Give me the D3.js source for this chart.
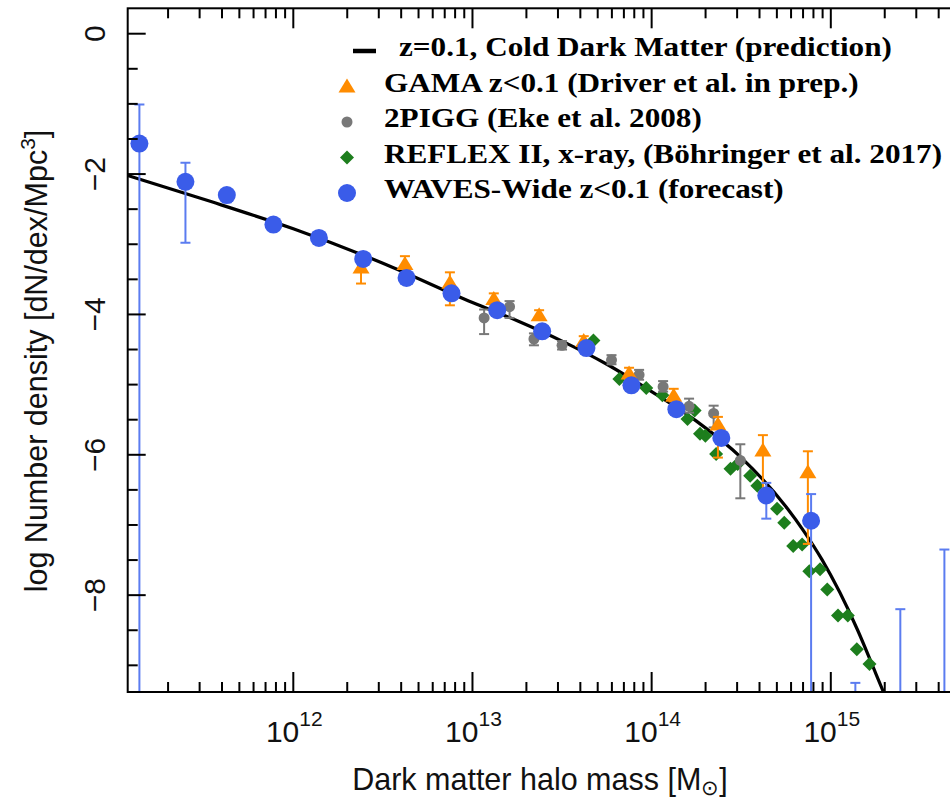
<!DOCTYPE html>
<html><head><meta charset="utf-8">
<script src="https://cdn.jsdelivr.net/npm/d3@7"></script>
<style>body{margin:0;background:#fff}</style>
</head><body>
<svg id="chart" width="950" height="800"></svg>
<script>
// ---------- data (log10 halo mass, log number density) ----------
const curveLogM = [11.076, 11.5, 12.0, 12.5, 13.0, 13.25, 13.5, 13.75, 14.0, 14.25, 14.5, 14.75, 14.85, 14.95, 15.05, 15.15, 15.25, 15.30, 15.33];
const curveLogN = [-2.02, -2.36, -2.78, -3.27, -3.83, -4.09, -4.38, -4.71, -5.10, -5.52, -6.04, -6.74, -7.09, -7.49, -7.96, -8.50, -9.11, -9.42, -9.62];

const wavesLogM = [11.141, 11.398, 11.629, 11.889, 12.143, 12.39, 12.632, 12.883, 13.138, 13.389, 13.636, 13.887, 14.138, 14.389, 14.64, 14.89, 15.137, 15.388, 15.634];
const wavesLogN = [-1.565, -2.11, -2.30, -2.72, -2.91, -3.21, -3.48, -3.70, -3.94, -4.24, -4.48, -5.01, -5.35, -5.76, -6.58, -6.94, -10.0, -10.0, -10.0];
const wavesLo   = [-10.5, -2.98, -2.40, -2.72, -2.91, -3.21, -3.48, -3.70, -3.94, -4.24, -4.48, -5.01, -5.35, -5.76, -6.91, -10.5, -10.5, -10.5, -10.5];
const wavesHi   = [-1.01, -1.84, -2.30, -2.72, -2.91, -3.21, -3.48, -3.70, -3.94, -4.24, -4.48, -5.01, -5.35, -5.76, -6.40, -6.56, -9.25, -8.20, -7.35];

const gamaLogM = [12.378, 12.623, 12.874, 13.119, 13.372, 13.621, 13.874, 14.123, 14.37, 14.621, 14.872];
const gamaLogN = [-3.33, -3.28, -3.55, -3.78, -4.01, -4.38, -4.84, -5.16, -5.57, -5.94, -6.25];
const gamaLo   = [-3.56, -3.50, -3.87, -3.86, -4.08, -4.45, -4.92, -5.24, -6.04, -6.55, -7.27];
const gamaHi   = [-3.20, -3.17, -3.40, -3.70, -3.94, -4.31, -4.76, -5.06, -5.46, -5.72, -5.95];

const piggLogM = [13.065, 13.207, 13.343, 13.50, 13.776, 13.93, 14.064, 14.209, 14.346, 14.495];
const piggLogN = [-4.05, -3.89, -4.35, -4.44, -4.65, -4.86, -5.03, -5.31, -5.41, -6.08];
const piggLo   = [-4.28, -4.05, -4.44, -4.50, -4.71, -4.93, -5.10, -5.40, -5.61, -6.62];
const piggHi   = [-3.93, -3.81, -4.27, -4.38, -4.58, -4.79, -4.95, -5.20, -5.30, -5.85];

const reflexLogM = [13.675, 13.82, 13.97, 14.06, 14.20, 14.24, 14.27, 14.30, 14.36, 14.44, 14.48, 14.55, 14.59, 14.70, 14.74, 14.79, 14.84, 14.88, 14.94, 14.98, 15.04, 15.095, 15.145, 15.216];
const reflexLogN = [-4.37, -4.92, -5.05, -5.15, -5.49, -5.37, -5.70, -5.73, -5.99, -6.20, -6.13, -6.30, -6.44, -6.77, -6.97, -7.30, -7.28, -7.66, -7.63, -7.92, -8.29, -8.29, -8.77, -8.98];

const yMajorTicks = [0, -2, -4, -6, -8];
const yTickLabels = ["0", "\u22122", "\u22124", "\u22126", "\u22128"];
const xMajorExp = [12, 13, 14, 15];
const legendLabels = [
  "z=0.1, Cold Dark Matter (prediction)",
  "GAMA z<0.1 (Driver et al. in prep.)",
  "2PIGG (Eke et al. 2008)",
  "REFLEX II, x-ray, (B\u00f6hringer et al. 2017)",
  "WAVES-Wide z<0.1 (forecast)"
];

// ---------- layout ----------
const L = 127.7, R = 953, T = 8.3, B = 692;
const x = d3.scaleLog().domain([Math.pow(10, 11.0757), Math.pow(10, 15.682)]).range([L, R]);
const y = d3.scaleLinear().domain([-9.38, 0.362]).range([B, T]);
const X = lm => x(Math.pow(10, lm));

const C = {blue: "#3a5ce9", blueBar: "#5b7cf0", orange: "#ff8c00", grey: "#787878", green: "#1d7e1d"};
const SANS = "'Liberation Sans', Arimo, Helvetica, Arial, sans-serif";
const SERIF = "'Liberation Serif', 'Times New Roman', Times, serif";

const svg = d3.select("#chart");
svg.append("defs").append("clipPath").attr("id", "clip")
  .append("rect").attr("x", L).attr("y", T).attr("width", R - L).attr("height", B - T);

const plot = svg.append("g").attr("clip-path", "url(#clip)");

// curve
const line = d3.line().x(d => X(d)).y((d, i) => y(curveLogN[i])).curve(d3.curveMonotoneX);
plot.append("path").attr("d", line(curveLogM)).attr("fill", "none")
  .attr("stroke", "#000").attr("stroke-width", 3.2);

function errBars(g, ms, lo, hi, color, w) {
  ms.forEach((m, i) => {
    if (Math.abs(hi[i] - lo[i]) < 1e-6) return;
    const cx = X(m);
    g.append("line").attr("x1", cx).attr("x2", cx).attr("y1", y(lo[i])).attr("y2", y(hi[i]))
      .attr("stroke", color).attr("stroke-width", w);
    [lo[i], hi[i]].forEach(v => {
      g.append("line").attr("x1", cx - 5).attr("x2", cx + 5).attr("y1", y(v)).attr("y2", y(v))
        .attr("stroke", color).attr("stroke-width", w);
    });
  });
}
const diamond = s => `M0,${-s}L${s},0L0,${s}L${-s},0Z`;
const tri = "M0,-8L8.5,6L-8.5,6Z";

// REFLEX diamonds
plot.append("g").selectAll("path").data(reflexLogM).join("path")
  .attr("d", diamond(7)).attr("fill", C.green)
  .attr("transform", (d, i) => `translate(${X(d)},${y(reflexLogN[i])})`);

// 2PIGG
const gp = plot.append("g");
errBars(gp, piggLogM, piggLo, piggHi, C.grey, 2);
gp.selectAll("circle").data(piggLogM).join("circle")
  .attr("cx", d => X(d)).attr("cy", (d, i) => y(piggLogN[i])).attr("r", 5.5).attr("fill", C.grey);

// GAMA
const go = plot.append("g");
errBars(go, gamaLogM, gamaLo, gamaHi, C.orange, 2);
go.selectAll("path").data(gamaLogM).join("path").attr("d", tri).attr("fill", C.orange)
  .attr("transform", (d, i) => `translate(${X(d)},${y(gamaLogN[i])})`);

// WAVES
const gb = plot.append("g");
errBars(gb, wavesLogM, wavesLo, wavesHi, C.blueBar, 2);
gb.selectAll("circle").data(wavesLogM).join("circle")
  .attr("cx", d => X(d)).attr("cy", (d, i) => y(wavesLogN[i])).attr("r", 9).attr("fill", C.blue);

// ---------- axes / frame ----------
const ax = svg.append("g").attr("stroke", "#000").attr("stroke-width", 2);
ax.append("rect").attr("x", L).attr("y", T).attr("width", R - L).attr("height", B - T).attr("fill", "none");

// x ticks (bottom & top, inward)
const xt = [];
for (let e = 11; e <= 15; e++) for (let m = 1; m <= 9; m++) {
  const v = m * Math.pow(10, e);
  if (v >= x.domain()[0] && v <= x.domain()[1]) xt.push({v, major: m === 1});
}
xt.forEach(t => {
  const px = x(t.v), len = t.major ? 20 : 10;
  ax.append("line").attr("x1", px).attr("x2", px).attr("y1", B).attr("y2", B - len);
  ax.append("line").attr("x1", px).attr("x2", px).attr("y1", T).attr("y2", T + len);
});
// y ticks (left, inward)
for (let v = -9; v <= 0.001; v += 0.5) {
  const major = yMajorTicks.some(m => Math.abs(m - v) < 1e-6);
  const py = y(v), len = major ? 18 : 10;
  ax.append("line").attr("x1", L).attr("x2", L + len).attr("y1", py).attr("y2", py);
}

// tick labels
const xl = svg.append("g").attr("font-family", SANS).attr("fill", "#111");
xMajorExp.forEach(e => {
  const t = xl.append("text").attr("x", x(Math.pow(10, e)) + 1).attr("y", 742)
    .attr("text-anchor", "middle").attr("font-size", 30);
  t.append("tspan").text("10");
  t.append("tspan").attr("dy", -16).attr("font-size", 21).text(String(e));
});
yMajorTicks.forEach((v, i) => {
  xl.append("text").attr("transform", `translate(105,${y(v)}) rotate(-90)`)
    .attr("text-anchor", "middle").attr("font-size", 30).text(yTickLabels[i]);
});

// axis titles
const xtitle = xl.append("text").attr("x", 540).attr("y", 790).attr("text-anchor", "middle").attr("font-size", 30.5);
xtitle.append("tspan").text("Dark matter halo mass [M");
xtitle.append("tspan").attr("dy", 5).attr("font-size", 21).text("\u2299");
xtitle.append("tspan").attr("dy", -5).text("]");

const ytitle = xl.append("text").attr("transform", "translate(47,361) rotate(-90)")
  .attr("text-anchor", "middle").attr("font-size", 30.5);
ytitle.append("tspan").text("log Number density [dN/dex/Mpc");
ytitle.append("tspan").attr("dy", -12).attr("font-size", 21).text("3");
ytitle.append("tspan").attr("dy", 12).text("]");

// ---------- legend ----------
const lg = svg.append("g");
const rowBase = i => 56 + 35.5 * i;
const symX = 347;
lg.append("line").attr("x1", 353).attr("x2", 376).attr("y1", rowBase(0) - 5).attr("y2", rowBase(0) - 5)
  .attr("stroke", "#000").attr("stroke-width", 4.5);
lg.append("path").attr("d", tri).attr("fill", C.orange).attr("transform", `translate(${symX},${rowBase(1) - 5})`);
lg.append("circle").attr("cx", symX).attr("cy", rowBase(2) - 5).attr("r", 5.5).attr("fill", C.grey);
lg.append("path").attr("d", diamond(7)).attr("fill", C.green).attr("transform", `translate(${symX},${rowBase(3) - 5})`);
lg.append("circle").attr("cx", symX).attr("cy", rowBase(4) - 5).attr("r", 9).attr("fill", C.blue);

const texts = legendLabels.map((s, i) => {
  const g = lg.append("g");
  const t = g.append("text").attr("x", 0).attr("y", 0).attr("font-family", SERIF)
    .attr("font-weight", "bold").attr("font-size", 28).attr("fill", "#000").text(s);
  return {g, t, x0: i === 0 ? 399 : 384, yb: rowBase(i)};
});
const targetW = 475; // measured width of the GAMA row
const sx = targetW / texts[1].t.node().getComputedTextLength();
texts.forEach(o => o.g.attr("transform", `translate(${o.x0},${o.yb}) scale(${sx},1)`));
</script>
</body></html>
